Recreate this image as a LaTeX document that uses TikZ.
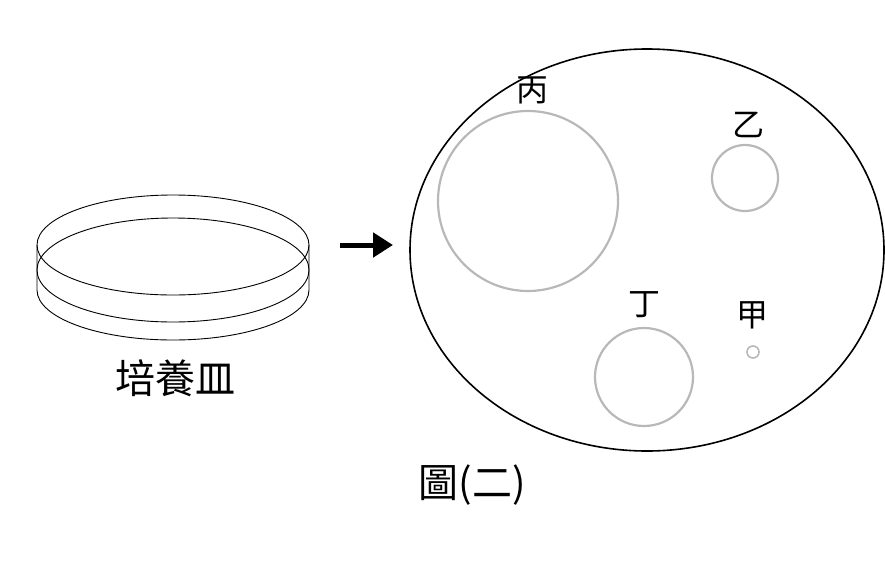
\documentclass[tikz,border=0pt]{standalone}
\usepackage{fontspec}
\newfontfamily\cjk{Noto Sans CJK TC}[Scale=1]
\usetikzlibrary{arrows.meta}
\begin{document}
\begin{tikzpicture}[x=1pt,y=-1pt,
  gc/.style={draw=black!28,line width=2.2pt},
  lb/.style={font=\cjk\fontsize{32}{32}\selectfont,inner sep=0pt}]
\useasboundingbox (0,0) rectangle (885,573);
% dish
\draw[line width=0.9pt] (173,245) ellipse [x radius=136,y radius=50];
\draw[line width=0.9pt] (173,270) ellipse [x radius=136,y radius=52];
\draw[line width=0.9pt] (37,245) -- (37,290) arc[start angle=180,end angle=360,x radius=136,y radius=-50] -- (309,245);
\node[lb,font=\cjk\fontsize{40}{40}\selectfont] (dish) at (175,378) {培養皿};
\coordinate (a1) at (340,245); \coordinate (a2) at (393,245);
\draw[line width=5pt,-{Triangle[length=20pt,width=24pt]}] (a1) -- (a2);
% plate
\draw[line width=1.6pt] (647,250) ellipse [x radius=237,y radius=201];
\draw[gc] (528,201) circle (90);
\draw[gc] (745,178) circle (33);
\draw[gc] (644,377) circle (49);
\draw[gc,line width=1.6pt] (753,352) circle (6);
\node[lb] (b) at (532,90) {丙};
\node[lb] (y) at (748,125) {乙};
\node[lb] (d) at (644,305) {丁};
\node[lb] (j) at (752,315) {甲};
\node[lb,font=\cjk\fontsize{40}{40}\selectfont] (t) at (472,485) {圖(二)};
\end{tikzpicture}
\end{document}
